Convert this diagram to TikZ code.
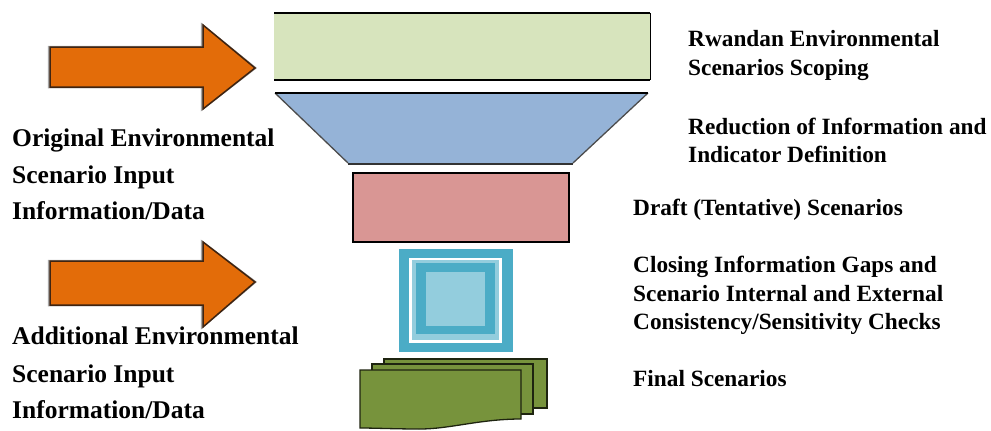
\documentclass[tikz,border=0pt]{standalone}
\usepackage{fontspec}
\setmainfont{Liberation Serif}
\definecolor{arrowfill}{HTML}{E36C09}
\definecolor{arrowedge}{HTML}{3F2411}
\definecolor{scopefill}{HTML}{D7E4BD}
\definecolor{funnelfill}{HTML}{95B3D7}
\definecolor{draftfill}{HTML}{D99694}
\definecolor{tealdark}{HTML}{4BACC6}
\definecolor{teallight}{HTML}{93CDDD}
\definecolor{docfill}{HTML}{77933C}
\definecolor{docedge}{HTML}{1E2410}
\begin{document}
\begin{tikzpicture}[x=1pt,y=-1pt,
  arrowshadow/.style={draw=black!35, line width=2.5pt, line join=miter},
  arrowbody/.style={fill=arrowfill, draw=arrowedge, line width=1.5pt, line join=miter},
  edge/.style={draw=black, line width=1.6pt},
  docshape/.style={fill=docfill, draw=docedge, line width=1.3pt, line join=miter},
  lefttext/.style={anchor=base west, inner sep=0pt, font=\bfseries\fontsize{25.5}{30}\selectfont},
  righttext/.style={anchor=base west, inner sep=0pt, font=\bfseries\fontsize{23.3}{27}\selectfont}]
\useasboundingbox (0,0) rectangle (991,431);

% input arrows
\foreach \yt/\ys/\ym/\yb/\yh in {25/47/68/87/109, 242/261/282/305/327}{
  \draw[arrowshadow] (49,\ys) -- (202,\ys) -- (202,\yt) -- (255,\ym) -- (202,\yh) -- (202,\yb) -- (49,\yb) -- cycle;
  \draw[arrowbody] (50,\ys) -- (203,\ys) -- (203,\yt) -- (255,\ym) -- (203,\yh) -- (203,\yb) -- (50,\yb) -- cycle;
}

% scoping bar
\fill[scopefill] (274,13) rectangle (650,80);
\draw[edge] (274,13) -- (650,13);
\draw[edge] (274,80) -- (650,80);
\draw[black, line width=1pt] (650,13) -- (650,80);

% funnel
\fill[funnelfill] (275,93) -- (648,93) -- (573,163) -- (348,163) -- cycle;
\draw[black!70, line width=1.3pt] (275,93) -- (348,163);
\draw[black!70, line width=1.3pt] (648,93) -- (573,163);
\draw[edge] (275,93) -- (648,93);
\draw[black!80, line width=2pt] (348,163.5) -- (573,163.5);

% draft box
\draw[edge, fill=draftfill] (353,173) rectangle (569,242);

% nested square
\fill[tealdark] (399,249) rectangle (513,352);
\fill[white] (409,258) rectangle (502,343);
\fill[teallight] (412,260) rectangle (499,340);
\fill[tealdark] (416,263) rectangle (495,334);
\fill[teallight] (426,272) rectangle (485,326);

% stacked documents
\draw[docshape] (384,359) -- (547,359) -- (547,408) -- (384,408) -- cycle;
\draw[docshape] (372,364) -- (533,364) -- (533,414) -- (372,414) -- cycle;
\draw[docshape] (360,370) -- (521,370) -- (521,419)
  .. controls (480,419) and (450,429) .. (420,429)
  .. controls (395,429) and (375,428) .. (360,428) -- cycle;

% labels
\node[lefttext] (inA1) at (12,146) {Original Environmental};
\node[lefttext] (inA2) at (12,183) {Scenario Input};
\node[lefttext] (inA3) at (12,219) {Information/Data};
\node[lefttext] (inB1) at (12,344) {Additional Environmental};
\node[lefttext] (inB2) at (12,382) {Scenario Input};
\node[lefttext] (inB3) at (12,418) {Information/Data};

\node[righttext] (st1a) at (688,46) {Rwandan Environmental};
\node[righttext] (st1b) at (688,75) {Scenarios Scoping};
\node[righttext] (st2a) at (688,134) {Reduction of Information and};
\node[righttext] (st2b) at (688,162) {Indicator Definition};
\node[righttext] (st3) at (633,215) {Draft (Tentative) Scenarios};
\node[righttext] (st4a) at (633,272) {Closing Information Gaps and};
\node[righttext] (st4b) at (633,301) {Scenario Internal and External};
\node[righttext] (st4c) at (633,329) {Consistency/Sensitivity Checks};
\node[righttext] (st5) at (633,386) {Final Scenarios};
\end{tikzpicture}
\end{document}
